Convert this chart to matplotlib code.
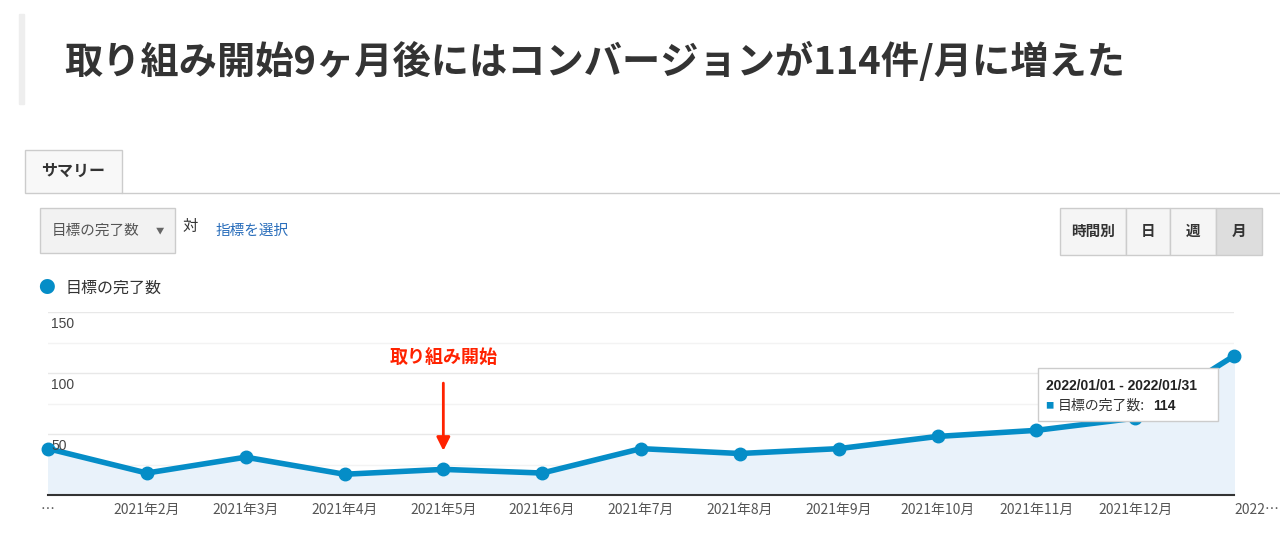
import matplotlib
matplotlib.use("Agg")
import matplotlib.pyplot as plt
from matplotlib.patches import Rectangle, FancyBboxPatch

plt.rcParams["font.family"] = "Noto Sans CJK JP"

months = ["…", "2021年2月", "2021年3月", "2021年4月", "2021年5月", "2021年6月", "2021年7月",
          "2021年8月", "2021年9月", "2021年10月", "2021年11月", "2021年12月", "2022…"]
completions = [38, 18, 31, 17, 21, 18, 38, 34, 38, 48, 53, 63, 114]
y_ticks = [50, 100, 150]
line_color = "#058dc7"

W, H = 1280, 552
fig = plt.figure(figsize=(12.8, 5.52), dpi=100)


def fx(px):
    return px / W


def fy(py):
    return 1 - py / H


# header
fig.patches.append(Rectangle((fx(19), fy(104)), fx(5), fy(14) - fy(104), transform=fig.transFigure,
                             color="#eeeeee"))
fig.text(fx(64), fy(62), "取り組み開始9ヶ月後にはコンバージョンが114件/月に増えた",
         fontsize=27.5, fontweight="bold", color="#333333", va="center")

# tab
fig.patches.append(Rectangle((fx(25), fy(193)), fx(97), fy(150) - fy(193), transform=fig.transFigure,
                             facecolor="#f8f8f8", edgecolor="#cccccc", lw=1))
fig.lines.append(plt.Line2D([fx(122), 1], [fy(193), fy(193)], transform=fig.transFigure,
                            color="#cccccc", lw=1))
fig.text(fx(73), fy(171), "サマリー", fontsize=11.5, fontweight="bold", color="#333333",
         ha="center", va="center")

# dropdown
fig.patches.append(Rectangle((fx(40), fy(253)), fx(135), fy(208) - fy(253), transform=fig.transFigure,
                             facecolor="#f2f2f2", edgecolor="#cccccc", lw=1))
fig.text(fx(52), fy(231), "目標の完了数", fontsize=10.5, color="#555555", va="center")
fig.text(fx(160), fy(231), "▼", fontsize=6, color="#666666", va="center", ha="center")
fig.text(fx(182), fy(226), "対", fontsize=11, color="#333333", va="center")
fig.text(fx(216), fy(231), "指標を選択", fontsize=10.5, color="#2a6ebb", va="center")

# period buttons
btns = [("時間別", 1060, 1126), ("日", 1126, 1170), ("週", 1170, 1216), ("月", 1216, 1262)]
for label, x0, x1 in btns:
    active = label == "月"
    fig.patches.append(Rectangle((fx(x0), fy(255)), fx(x1 - x0), fy(208) - fy(255),
                                 transform=fig.transFigure,
                                 facecolor="#dddddd" if active else "#f5f5f5",
                                 edgecolor="#cccccc", lw=1))
    fig.text(fx((x0 + x1) / 2), fy(231), label, fontsize=10.5, fontweight="bold",
             color="#333333", ha="center", va="center")

# legend
fig.text(fx(46), fy(288), "●", fontsize=12, color=line_color, ha="center", va="center")
fig.text(fx(66), fy(288), "目標の完了数", fontsize=11.5, color="#333333", va="center")

# chart
ax = fig.add_axes([fx(48), fy(495), fx(1234 - 48), fy(312) - fy(495)])
x = list(range(len(months)))
ax.fill_between(x, completions, color="#e9f2fa", zorder=1)
ax.plot(x, completions, color=line_color, lw=4, marker="o", ms=9, zorder=3, clip_on=False)
ax.set_xlim(0, len(months) - 1)
ax.set_ylim(0, 150)
for v in range(25, 151, 25):
    ax.axhline(v, color="#e8e8e8" if v % 50 == 0 else "#f3f3f3", lw=1, zorder=0)
for s in ["top", "right", "left"]:
    ax.spines[s].set_visible(False)
ax.spines["bottom"].set_color("#333333")
ax.spines["bottom"].set_linewidth(1.5)
ax.set_yticks([])
for v in y_ticks:
    ax.text(0.03, v - 4, str(v), fontsize=10, color="#444444", va="top", ha="left",
            fontfamily="Liberation Sans", zorder=4)
ax.set_xticks(x)
ax.set_xticklabels(months, fontsize=10, color="#555555")
ax.tick_params(axis="x", length=0, pad=6)
ax.get_xticklabels()[-1].set_ha("left")
ax.get_xticklabels()[-1].set_x(11.77)

# annotation
ax.annotate("", xy=(4, 34), xytext=(4, 94),
            arrowprops=dict(arrowstyle="-|>", color="#ff2200", lw=2, mutation_scale=20))
ax.text(4, 113, "取り組み開始", color="#ff2200", fontsize=13, fontweight="bold",
        ha="center", va="center")

# tooltip
fig.patches.append(FancyBboxPatch((fx(1038), fy(421)), fx(180), fy(368) - fy(421),
                                  boxstyle="square,pad=0", transform=fig.transFigure,
                                  facecolor="white", edgecolor="#cccccc", lw=1, zorder=10))
fig.text(fx(1046), fy(386), "2022/01/01 - 2022/01/31", fontsize=10, fontweight="bold",
         fontfamily="Liberation Sans", color="#222222", va="center", zorder=11)
fig.text(fx(1045), fy(406), "■", fontsize=6, color=line_color, va="center", zorder=11)
fig.text(fx(1058), fy(406), "目標の完了数:", fontsize=10, color="#333333", va="center", zorder=11)
fig.text(fx(1153), fy(406), "114", fontsize=10, fontweight="bold", fontfamily="Liberation Sans",
         color="#222222", va="center", zorder=11)

fig.savefig("out.png", dpi=100)
